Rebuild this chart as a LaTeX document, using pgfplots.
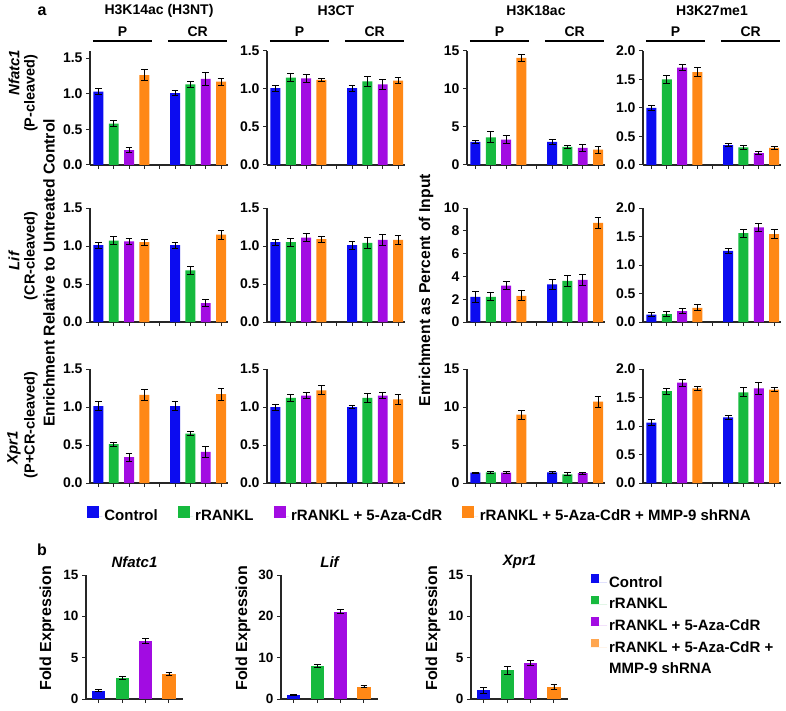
\documentclass[border=0pt]{standalone}
\usepackage{fontspec}
\setmainfont{Liberation Sans}
\usepackage{pgfplots}
\usepackage{pgfplotstable}
\pgfplotsset{compat=1.18}

\definecolor{cb}{RGB}{12,12,240}
\definecolor{cg}{RGB}{22,186,62}
\definecolor{cp}{RGB}{162,12,226}
\definecolor{co}{RGB}{255,136,22}

% columns: g = x of first bar; b/gr/p/o = Control, rRANKL, +Aza, +shRNA; *e = error
\pgfplotstableread{
g b be gr ge p pe o oe
1 1.03 0.04 0.58 0.04 0.21 0.04 1.26 0.08
6 1.01 0.04 1.13 0.04 1.21 0.09 1.17 0.05
}\tNa
\pgfplotstableread{
g b be gr ge p pe o oe
1 1.01 0.04 1.15 0.05 1.14 0.05 1.12 0.02
6 1.01 0.04 1.10 0.07 1.06 0.06 1.11 0.04
}\tNb
\pgfplotstableread{
g b be gr ge p pe o oe
1 3.04 0.15 3.65 0.70 3.35 0.50 14.1 0.50
6 3.04 0.35 2.38 0.20 2.25 0.50 2.03 0.45
}\tNc
\pgfplotstableread{
g b be gr ge p pe o oe
1 1.00 0.04 1.50 0.07 1.71 0.06 1.63 0.08
6 0.35 0.03 0.31 0.04 0.21 0.03 0.30 0.02
}\tNd
\pgfplotstableread{
g b be gr ge p pe o oe
1 1.01 0.04 1.07 0.05 1.06 0.04 1.05 0.04
6 1.01 0.04 0.68 0.05 0.25 0.05 1.15 0.06
}\tLa
\pgfplotstableread{
g b be gr ge p pe o oe
1 1.05 0.04 1.05 0.05 1.11 0.05 1.09 0.04
6 1.01 0.05 1.04 0.07 1.08 0.07 1.08 0.06
}\tLb
\pgfplotstableread{
g b be gr ge p pe o oe
1 2.20 0.50 2.20 0.35 3.20 0.35 2.30 0.45
6 3.30 0.45 3.60 0.45 3.70 0.45 8.70 0.50
}\tLc
\pgfplotstableread{
g b be gr ge p pe o oe
1 0.13 0.04 0.14 0.04 0.19 0.04 0.25 0.05
6 1.25 0.04 1.56 0.07 1.66 0.07 1.54 0.08
}\tLd
\pgfplotstableread{
g b be gr ge p pe o oe
1 1.01 0.06 0.51 0.03 0.34 0.05 1.16 0.07
6 1.01 0.06 0.65 0.03 0.41 0.07 1.17 0.08
}\tXa
\pgfplotstableread{
g b be gr ge p pe o oe
1 1.00 0.04 1.12 0.05 1.15 0.04 1.22 0.06
6 1.00 0.02 1.12 0.06 1.15 0.04 1.10 0.06
}\tXb
\pgfplotstableread{
g b be gr ge p pe o oe
1 1.35 0.10 1.40 0.15 1.35 0.15 9.00 0.60
6 1.40 0.10 1.15 0.20 1.30 0.15 10.7 0.70
}\tXc
\pgfplotstableread{
g b be gr ge p pe o oe
1 1.06 0.05 1.61 0.05 1.76 0.06 1.66 0.04
6 1.15 0.04 1.59 0.08 1.66 0.10 1.64 0.03
}\tXd
% panel b
\pgfplotstableread{
g b be gr ge p pe o oe
1 1.00 0.10 2.55 0.20 7.05 0.30 3.05 0.20
}\tbN
\pgfplotstableread{
g b be gr ge p pe o oe
1 1.00 0.15 8.00 0.40 21.1 0.50 3.00 0.30
}\tbL
\pgfplotstableread{
g b be gr ge p pe o oe
1 1.05 0.35 3.45 0.45 4.35 0.35 1.45 0.30
}\tbX

\newcommand{\fs}[1]{\fontsize{#1}{#1}\selectfont\bfseries}

\pgfplotsset{
  eb/.style={forget plot, error bars/.cd, y dir=both, y explicit,
    error bar style={black, line width=0.9pt},
    error mark options={rotate=90, mark size=3.4pt, black, line width=0.9pt}},
  base/.style={scale only axis, anchor=south west, ymin=0, clip=false,
    axis lines=left, axis line style={-, line width=1.2pt, black!85},
    tick align=outside, major tick length=4pt,
    tick style={line width=1pt, black!85},
    xticklabels={},
    /pgf/number format/assume math mode=true},
  pa/.style={base, width=138pt, height=114pt, xmin=0.45, xmax=9.45,
    xtick={1,...,9}, bar width=0.65, yticklabel style={font=\fs{14}}},
  pb/.style={base, width=97pt, height=124pt, xmin=0.45, xmax=4.6,
    xtick={1,2,3,4}, bar width=0.56, yticklabel style={font=\fs{13.5}}},
  dec1/.style={yticklabel style={/pgf/number format/fixed,
    /pgf/number format/fixed zerofill, /pgf/number format/precision=1}},
}

\newcommand{\bars}[1]{%
  \addplot[ybar, bar shift=0pt, fill=cb, draw=none, eb] table[x=g, y=b, y error=be]{#1};
  \addplot[ybar, bar shift=0pt, fill=cg, draw=none, eb] table[x expr=\thisrow{g}+1, y=gr, y error=ge]{#1};
  \addplot[ybar, bar shift=0pt, fill=cp, draw=none, eb] table[x expr=\thisrow{g}+2, y=p, y error=pe]{#1};
  \addplot[ybar, bar shift=0pt, fill=co, draw=none, eb] table[x expr=\thisrow{g}+3, y=o, y error=oe]{#1};
}
\newcommand{\topdeco}[1]{%
  \draw[line width=1.3pt] ([yshift=10pt]rel axis cs:0.02,1) -- ([yshift=10pt]rel axis cs:0.45,1);
  \draw[line width=1.3pt] ([yshift=10pt]rel axis cs:0.565,1) -- ([yshift=10pt]rel axis cs:0.99,1);
  \node[font=\fs{14}] at ([yshift=19.5pt]rel axis cs:0.235,1) {P};
  \node[font=\fs{14}] at ([yshift=19.5pt]rel axis cs:0.78,1) {CR};
  \node[font=\fs{14}] at ([yshift=40pt]rel axis cs:0.5,1) {#1};
}
\newcommand{\rowlab}[4]{%
  \node[rotate=90, font=\fs{15}\itshape] at ([xshift=-76pt]rel axis cs:0,#2) {#1};
  \node[rotate=90, font=\fs{14.5}] at ([xshift=-59pt]rel axis cs:0,#4) {#3};
}

\begin{document}
\begin{tikzpicture}[x=1pt,y=1pt]
\path[use as bounding box] (0,0) rectangle (786,-711);

% ---------- row 1: Nfatc1
\begin{axis}[pa, at={(90pt,-165pt)}, ymax=1.6, ytick={0,0.5,1,1.5}, dec1]
\bars{\tNa}
\topdeco{H3K14ac (H3NT)}
\node[font=\fs{16}] at ([xshift=-48pt,yshift=40pt]rel axis cs:0,1) {a};
\rowlab{Nfatc1}{0.81}{(P-cleaved)}{0.63}
\end{axis}
\begin{axis}[pa, at={(267pt,-165pt)}, ymax=1.5, ytick={0,0.5,1,1.5}, dec1]
\bars{\tNb}
\topdeco{H3CT}
\end{axis}
\begin{axis}[pa, at={(467pt,-165pt)}, ymax=15, ytick={0,5,10,15}]
\bars{\tNc}
\topdeco{H3K18ac}
\end{axis}
\begin{axis}[pa, at={(643pt,-165pt)}, ymax=2, ytick={0,0.5,1,1.5,2}, dec1]
\bars{\tNd}
\topdeco{H3K27me1}
\end{axis}

% ---------- row 2: Lif
\begin{axis}[pa, at={(90pt,-322pt)}, ymax=1.5, ytick={0,0.5,1,1.5}, dec1]
\bars{\tLa}
\rowlab{Lif}{0.535}{(CR-cleaved)}{0.58}
\node[rotate=90, font=\fs{15.7}] at ([xshift=-41pt]rel axis cs:0,0.43) {Enrichment Relative to Untreated Control};
\end{axis}
\begin{axis}[pa, at={(267pt,-322pt)}, ymax=1.5, ytick={0,0.5,1,1.5}, dec1]
\bars{\tLb}
\end{axis}
\begin{axis}[pa, at={(467pt,-322pt)}, ymax=10, ytick={0,2,4,6,8,10}]
\bars{\tLc}
\node[rotate=90, font=\fs{15.7}] at ([xshift=-41pt]rel axis cs:0,0.28) {Enrichment as Percent of Input};
\end{axis}
\begin{axis}[pa, at={(643pt,-322pt)}, ymax=2, ytick={0,0.5,1,1.5,2}, dec1]
\bars{\tLd}
\end{axis}

% ---------- row 3: Xpr1
\begin{axis}[pa, at={(90pt,-483pt)}, ymax=1.5, ytick={0,0.5,1,1.5}, dec1,
  legend columns=4,
  legend image code/.code={\fill[#1] (0pt,-1.5pt) rectangle (12pt,10.5pt); \path (0pt,0pt) -- (15.5pt,0pt);},
  legend style={at={(2.39,-0.28)}, anchor=center, draw=none, fill=none,
    font=\fs{15}, /tikz/every even column/.append style={column sep=18pt}}]
\bars{\tXa}
\rowlab{Xpr1}{0.31}{(P+CR-cleaved)}{0.51}
\addlegendimage{fill=cb, draw=none}\addlegendentry{Control}
\addlegendimage{fill=cg, draw=none}\addlegendentry{rRANKL}
\addlegendimage{fill=cp, draw=none}\addlegendentry{rRANKL + 5-Aza-CdR}
\addlegendimage{fill=co, draw=none}\addlegendentry{rRANKL + 5-Aza-CdR + MMP-9 shRNA}
\end{axis}
\begin{axis}[pa, at={(267pt,-483pt)}, ymax=1.5, ytick={0,0.5,1,1.5}, dec1]
\bars{\tXb}
\end{axis}
\begin{axis}[pa, at={(467pt,-483pt)}, ymax=15, ytick={0,5,10,15}]
\bars{\tXc}
\end{axis}
\begin{axis}[pa, at={(643pt,-483pt)}, ymax=2, ytick={0,0.5,1,1.5,2}, dec1]
\bars{\tXd}
\end{axis}

% ---------- panel b
\begin{axis}[pb, at={(86pt,-699pt)}, ymax=15, ytick={0,5,10,15}]
\bars{\tbN}
\node[font=\fs{16}] at ([xshift=-44pt,yshift=25pt]rel axis cs:0,1) {b};
\node[font=\fs{15}\itshape] at ([yshift=13pt]rel axis cs:0.5,1) {Nfatc1};
\node[rotate=90, font=\fs{16}] at ([xshift=-39pt]rel axis cs:0,0.57) {Fold Expression};
\end{axis}
\begin{axis}[pb, at={(281pt,-699pt)}, ymax=30, ytick={0,10,20,30}]
\bars{\tbL}
\node[font=\fs{15}\itshape] at ([yshift=13pt]rel axis cs:0.5,1) {Lif};
\node[rotate=90, font=\fs{16}] at ([xshift=-38pt]rel axis cs:0,0.57) {Fold Expression};
\end{axis}
\begin{axis}[pb, at={(471pt,-699pt)}, ymax=15, ytick={0,5,10,15},
  legend image code/.code={\fill[#1] (0pt,0pt) rectangle (8.5pt,8.5pt); \path (0pt,0pt) -- (16.5pt,0pt);},
  legend cell align=left,
  legend style={at={(1.20,1.025)}, anchor=north west, draw=none, fill=none,
    font=\fs{15}, row sep=5pt}]
\bars{\tbX}
\node[font=\fs{15}\itshape] at ([yshift=13pt]rel axis cs:0.5,1) {Xpr1};
\node[rotate=90, font=\fs{16}] at ([xshift=-38pt]rel axis cs:0,0.57) {Fold Expression};
\addlegendimage{fill=cb, draw=none}\addlegendentry{Control}
\addlegendimage{fill=cg, draw=none}\addlegendentry{rRANKL}
\addlegendimage{fill=cp, draw=none}\addlegendentry{rRANKL + 5-Aza-CdR}
\addlegendimage{fill=co!75, draw=none}\addlegendentry{rRANKL + 5-Aza-CdR +}
\addlegendimage{fill=white, draw=none}\addlegendentry{MMP-9 shRNA}
\end{axis}
\end{tikzpicture}
\end{document}
